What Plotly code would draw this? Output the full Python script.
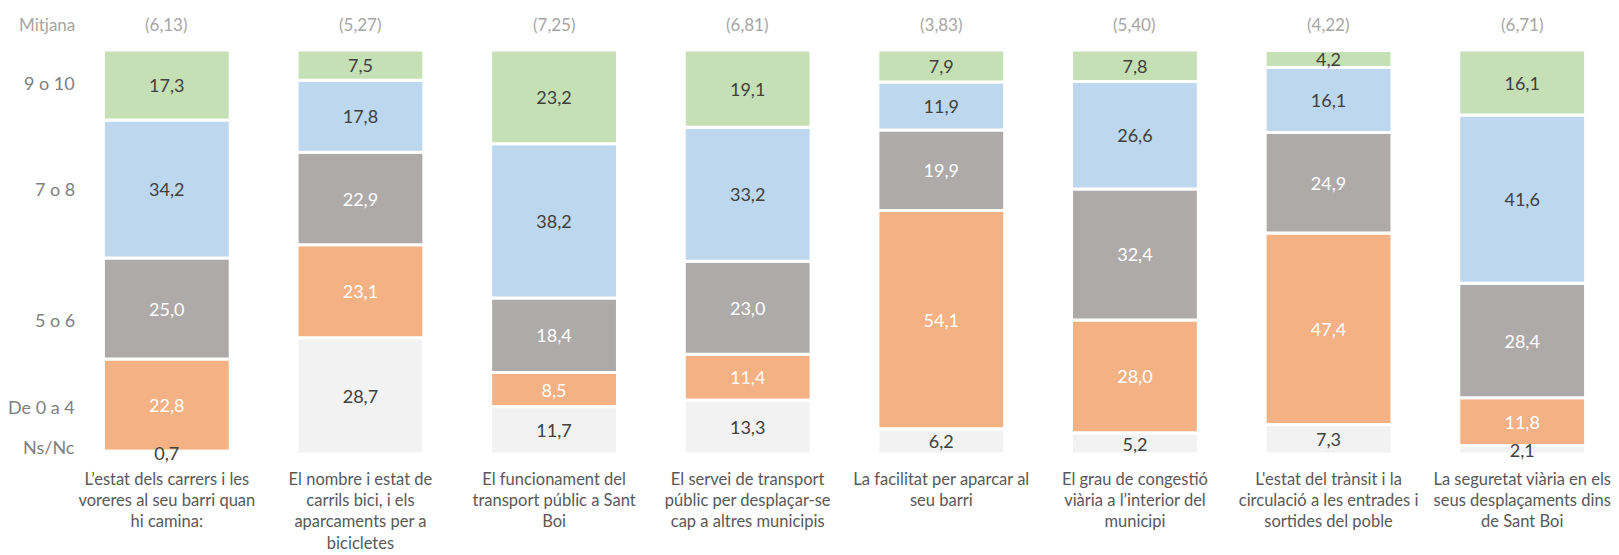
import plotly.graph_objects as go
from itertools import accumulate

categories = [
    "L’estat dels carrers i les<br>voreres al seu barri quan<br>hi camina:",
    "El nombre i estat de<br>carrils bici, i els<br>aparcaments per a<br>bicicletes",
    "El funcionament del<br>transport públic a Sant<br>Boi",
    "El servei de transport<br>públic per desplaçar-se<br>cap a altres municipis",
    "La facilitat per aparcar al<br>seu barri",
    "El grau de congestió<br>viària a l’interior del<br>municipi",
    "L'estat del trànsit i la<br>circulació a les entrades i<br>sortides del poble",
    "La seguretat viària en els<br>seus desplaçaments dins<br>de Sant Boi",
]
series_names = ["Ns/Nc", "De 0 a 4", "5 o 6", "7 o 8", "9 o 10"]
ns_nc = [0.7, 28.7, 11.7, 13.3, 6.2, 5.2, 7.3, 2.1]
de_0_a_4 = [22.8, 23.1, 8.5, 11.4, 54.1, 28.0, 47.4, 11.8]
de_5_o_6 = [25.0, 22.9, 18.4, 23.0, 19.9, 32.4, 24.9, 28.4]
de_7_o_8 = [34.2, 17.8, 38.2, 33.2, 11.9, 26.6, 16.1, 41.6]
de_9_o_10 = [17.3, 7.5, 23.2, 19.1, 7.9, 7.8, 4.2, 16.1]
mitjana = ["(6,13)", "(5,27)", "(7,25)", "(6,81)", "(3,83)", "(5,40)", "(4,22)", "(6,71)"]

series_values = [ns_nc, de_0_a_4, de_5_o_6, de_7_o_8, de_9_o_10]
colors = ["#F2F2F2", "#F4B183", "#AEAAAA", "#BDD7EE", "#C5E0B4"]
text_colors = ["#404040", "#FFFFFF", "#FFFFFF", "#404040", "#404040"]
label_y = [0.017, 0.116, 0.332, 0.656, 0.918]

FONT = "Lato"

# stacked bases, computed from the data
bases = []
for j in range(len(categories)):
    col = [0] + list(accumulate(s[j] for s in series_values))[:-1]
    bases.append(col)
bases_by_series = [[bases[j][i] for j in range(len(categories))] for i in range(len(series_values))]

fig = go.Figure()
# draw Ns/Nc last so its labels stay visible on top
order = [1, 2, 3, 4, 0]
for i in order:
    name, vals, col, tcol = series_names[i], series_values[i], colors[i], text_colors[i]
    fig.add_trace(go.Bar(
        x=categories, y=vals, base=bases_by_series[i], name=name,
        marker=dict(color=col, line=dict(color="#FFFFFF", width=3)),
        text=[f"{v:.1f}".replace(".", ",") for v in vals],
        textposition="inside", insidetextanchor="middle",
        textangle=0, constraintext="none", cliponaxis=False,
        insidetextfont=dict(color=tcol, size=18, family=FONT),
        hoverinfo="skip",
    ))

annotations = []
for cat, m in zip(categories, mitjana):
    annotations.append(dict(x=cat, y=1.062, xref="x", yref="paper", text=m,
                            yanchor="middle", showarrow=False,
                            font=dict(size=17, color="#A6A6A6", family=FONT)))
annotations.append(dict(x=0, y=1.062, xref="paper", yref="paper", text="Mitjana",
                        xanchor="right", yanchor="middle", xshift=7, showarrow=False,
                        font=dict(size=17, color="#A6A6A6", family=FONT)))
for name, ly in zip(series_names, label_y):
    annotations.append(dict(x=0, y=ly, xref="paper", yref="paper", text=name,
                            xanchor="right", yanchor="middle", xshift=7, showarrow=False,
                            font=dict(size=18, color="#7F7F7F", family=FONT)))

fig.update_layout(
    barmode="overlay", bargap=0.345,
    width=1611, height=547,
    margin=dict(l=62, r=0, t=42, b=101, autoexpand=False),
    plot_bgcolor="white", paper_bgcolor="white",
    showlegend=False,
    font=dict(family=FONT, color="#595959"),
    xaxis=dict(showgrid=False, showline=False, zeroline=False, ticks="",
               tickfont=dict(size=16.5, color="#595959", family=FONT), tickangle=0,
               automargin=False, ticklabelstandoff=13),
    yaxis=dict(range=[0, 100.02], visible=False, automargin=False),
    annotations=annotations,
)
fig.write_html("out.html")
